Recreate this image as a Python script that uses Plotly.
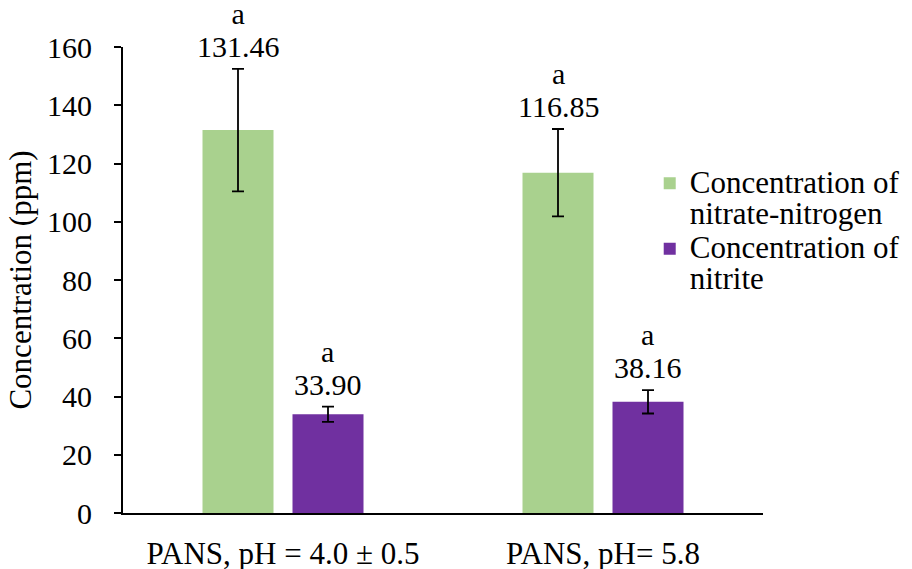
import plotly.graph_objects as go

categories = ["PANS, pH = 4.0 ± 0.5", "PANS, pH= 5.8"]
nitrate = [131.46, 116.85]
nitrate_err = [21.0, 15.0]
nitrite = [33.90, 38.16]
nitrite_err = [2.6, 4.0]
letters_nitrate = ["a", "a"]
letters_nitrite = ["a", "a"]
y_ticks = [0, 20, 40, 60, 80, 100, 120, 140, 160]
legend_names = [["Concentration of", "nitrate-nitrogen"], ["Concentration of", "nitrite"]]

FONT = "Liberation Serif"
GREEN = "#A9D18E"
PURPLE = "#7030A0"


def big_lines(lines, px):
    return "<br>".join(f"<span style='font-size:{px}px'>{s}</span>" for s in lines)


fig = go.Figure()
fig.add_trace(go.Bar(
    name=big_lines(legend_names[0], 31), x=categories, y=nitrate,
    marker=dict(color=GREEN, line=dict(width=0)),
    error_y=dict(type="data", array=nitrate_err, color="black", thickness=1.8, width=6),
))
fig.add_trace(go.Bar(
    name=big_lines(legend_names[1], 31), x=categories, y=nitrite,
    marker=dict(color=PURPLE, line=dict(width=0)),
    error_y=dict(type="data", array=nitrite_err, color="black", thickness=1.8, width=6),
))

annotations = []
for vals, errs, letters, shift in ((nitrate, nitrate_err, letters_nitrate, -45),
                                   (nitrite, nitrite_err, letters_nitrite, 45)):
    for cat, v, e, l in zip(categories, vals, errs, letters):
        annotations.append(dict(x=cat, y=v + e, xref="x", yref="y",
                                text=big_lines([l, f"{v:.2f}"], 30),
                                showarrow=False, yanchor="bottom", xshift=shift, yshift=4,
                                font=dict(family=FONT, size=25, color="black")))

fig.update_layout(
    width=912, height=569,
    margin=dict(l=123, r=149, t=47, b=56, autoexpand=False),
    paper_bgcolor="white", plot_bgcolor="white",
    barmode="group", bargap=0.4375, bargroupgap=0.211,
    font=dict(family=FONT, size=30, color="black"),
    showlegend=True,
    legend=dict(x=0.823, xanchor="left", y=0.755, yanchor="top", valign="top",
                font=dict(family=FONT, size=24, color="black"),
                tracegroupgap=0, itemwidth=30, bgcolor="rgba(0,0,0,0)"),
    annotations=annotations,
)
fig.update_xaxes(showline=True, linecolor="black", linewidth=2, ticks="",
                 showgrid=False, ticklabelstandoff=12, automargin=False,
                 tickfont=dict(family=FONT, size=31, color="black"))
fig.update_yaxes(range=[0, 160], tickvals=y_ticks, showline=True, linecolor="black",
                 linewidth=2, ticks="outside", ticklen=7, tickwidth=1.5, tickcolor="black",
                 showgrid=False, zeroline=False, ticklabelstandoff=16, automargin=False,
                 tickfont=dict(family=FONT, size=30, color="black"),
                 title=dict(text="Concentration (ppm)", standoff=6,
                            font=dict(family=FONT, size=31, color="black")))

fig.write_html("out.html")
